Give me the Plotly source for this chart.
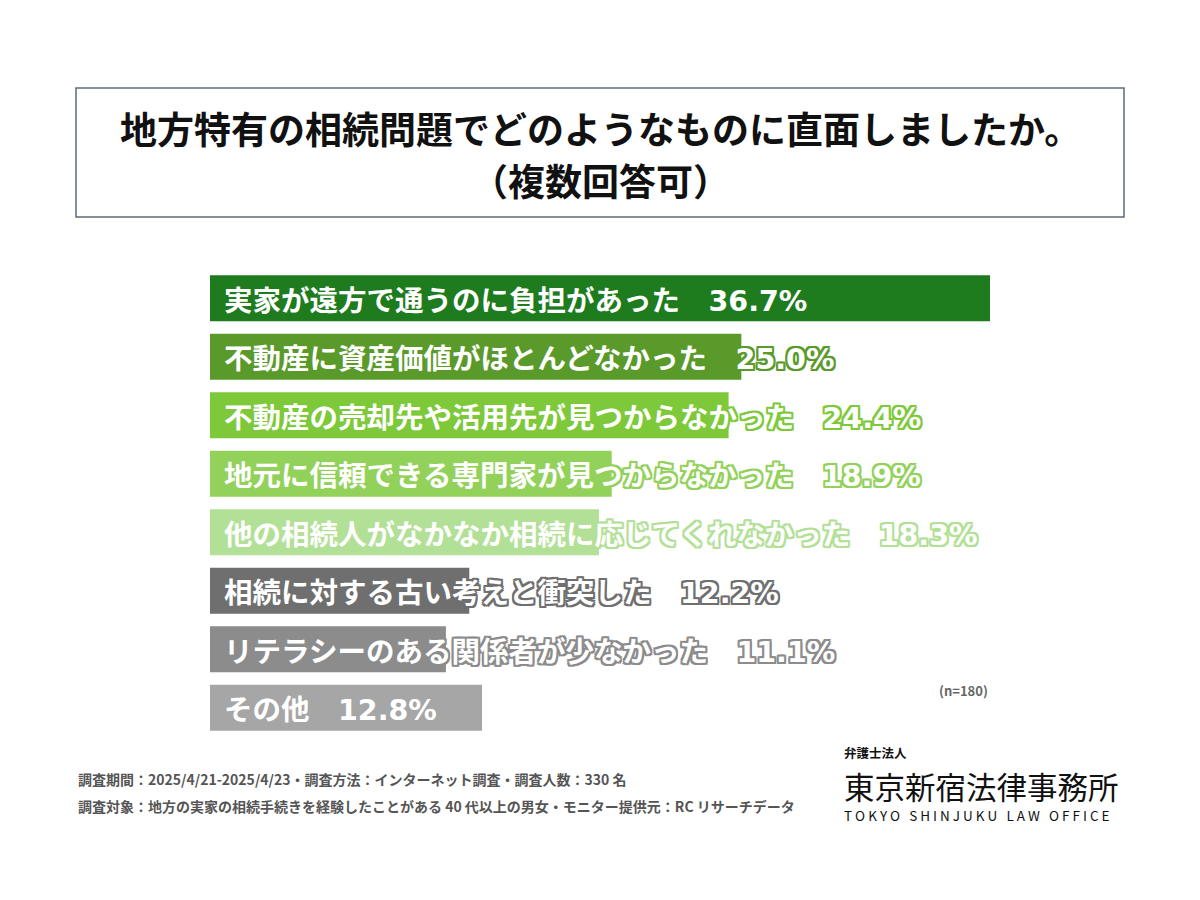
import plotly.graph_objects as go

labels = ["実家が遠方で通うのに負担があった", "不動産に資産価値がほとんどなかった", "不動産の売却先や活用先が見つからなかった",
          "地元に信頼できる専門家が見つからなかった", "他の相続人がなかなか相続に応じてくれなかった",
          "相続に対する古い考えと衝突した", "リテラシーのある関係者が少なかった", "その他"]
values = [36.7, 25.0, 24.4, 18.9, 18.3, 12.2, 11.1, 12.8]
colors = ["#1E7B1E", "#5A9A2B", "#7DC93A", "#92D15A", "#B3E097", "#6F6F6F", "#8C8C8C", "#A6A6A6"]
ys = list(range(len(labels)))

O = 8  # page offset compensation
def px(x): return (x - O) / 1200
def py(y): return 1 - (y - O) / 900

fig = go.Figure(go.Bar(x=values, y=ys, orientation="h", marker=dict(color=colors, line_width=0),
                       hoverinfo="skip"))

def outline(c, w=2):
    offs = [(w, 0), (-w, 0), (0, w), (0, -w), (w, w), (-w, -w), (w, -w), (-w, w)]
    return ", ".join(f"{a}px {b}px 0 {c}" for a, b in offs)

F = "Noto Sans CJK JP"
ann = []
for y, lab, v, c in zip(ys, labels, values, colors):
    ann.append(dict(x=0, y=y, xref="x", yref="y", xanchor="left", yanchor="middle", xshift=12,
                    text=f"{lab}\u3000<span style='font-family:DejaVu Sans'>{v:.1f}%</span>", showarrow=False,
                    font=dict(family=F, size=28.5, color="white", weight="bold", shadow=outline(c))))

def t(x, y, text, size, color="#111", bold=True, xa="left"):
    return dict(x=px(x), y=py(y), xref="paper", yref="paper", xanchor=xa, yanchor="middle", text=text,
                showarrow=False, font=dict(family=F, size=size, color=color, weight="bold" if bold else "normal"))

ann += [
    t(600, 128, "地方特有の相続問題でどのようなものに直面しましたか。", 37, xa="center"),
    t(600, 180, "（複数回答可）", 37, xa="center"),
    t(990, 690, "(n=180)", 13, "#666", xa="right"),
    t(76, 779, "調査期間：2025/4/21-2025/4/23・調査方法：インターネット調査・調査人数：330 名", 14, "#555"),
    t(76, 806, "調査対象：地方の実家の相続手続きを経験したことがある 40 代以上の男女・モニター提供元：RC リサーチデータ", 14, "#555"),
    t(842, 752, "弁護士法人", 12.5),
    t(842, 786, "東京新宿法律事務所", 30.5, bold=False),
    t(842, 815, "T O K Y O   S H I N J U K U   L A W   O F F I C E", 13.5, bold=False),
]

fig.update_layout(
    width=1200, height=900, margin=dict(l=0, r=0, t=0, b=0),
    paper_bgcolor="white", plot_bgcolor="white", showlegend=False, bargap=0.21,
    xaxis=dict(domain=[px(210), px(990)], range=[0, 36.7], visible=False),
    yaxis=dict(domain=[py(737), py(269)], range=[7.5, -0.5], visible=False),
    annotations=ann,
    shapes=[dict(type="rect", xref="paper", yref="paper", x0=px(76), x1=px(1124),
                 y0=py(217), y1=py(88), line=dict(color="#5F6B75", width=1.5))],
)
fig.write_html("out.html")
